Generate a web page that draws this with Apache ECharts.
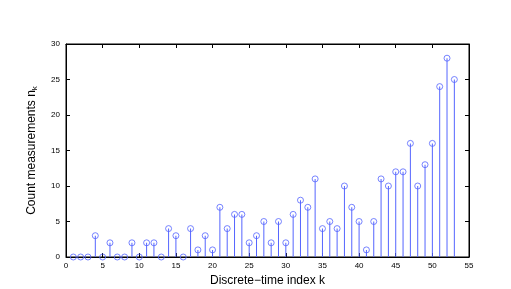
<!DOCTYPE html>
<html><head><meta charset="utf-8">
<script src="https://cdn.jsdelivr.net/npm/echarts@6/dist/echarts.min.js"></script>
<style>html,body{margin:0;padding:0;background:#fff}#c{width:511px;height:289px}</style>
</head><body><div id="c"></div>
<script>
const kIndex = [1,2,3,4,5,6,7,8,9,10,11,12,13,14,15,16,17,18,19,20,21,22,23,24,25,26,27,28,29,30,31,32,33,34,35,36,37,38,39,40,41,42,43,44,45,46,47,48,49,50,51,52,53];
const counts = [0,0,0,3,0,2,0,0,2,0,2,2,0,4,3,0,4,1,3,1,7,4,6,6,2,3,5,2,5,2,6,8,7,11,4,5,4,10,7,5,1,5,11,10,12,12,16,10,13,16,24,28,25];
const xTicks = [0,5,10,15,20,25,30,35,40,45,50,55];
const yTicks = [0,5,10,15,20,25,30];

const pts = kIndex.map((k,i)=>[k,counts[i]]);
const blue = '#5565ff';
const font = 'Liberation Sans, Arial, sans-serif';
const chart = echarts.init(document.getElementById('c'));
function base(extra){
  return Object.assign({
    axisLine:{show:true,onZero:false,lineStyle:{color:'#000',width:1}},
    axisTick:{show:true,inside:true,length:4,lineStyle:{color:'#000',width:1}},
    splitLine:{show:false}
  },extra);
}
chart.setOption({
  animation:false,
  backgroundColor:'#fff',
  grid:{left:66,right:42,top:44,bottom:32,containLabel:false,outerBoundsMode:'none',
    show:true,borderColor:'#000',borderWidth:1,backgroundColor:'transparent'},
  xAxis:[
    base({type:'value',min:xTicks[0],max:xTicks[xTicks.length-1],interval:5,position:'bottom',
      name:'Discrete\u2212time index k',nameLocation:'middle',nameGap:14,
      nameTextStyle:{fontFamily:font,fontSize:12,color:'#000'},
      axisLabel:{fontFamily:font,fontSize:8,color:'#000',margin:5}}),
    base({type:'value',min:xTicks[0],max:xTicks[xTicks.length-1],interval:5,position:'top',
      axisLabel:{show:false}})
  ],
  yAxis:[
    base({type:'value',min:yTicks[0],max:yTicks[yTicks.length-1],interval:5,position:'left',
      name:'{a|Count measurements n}{s|k}',nameLocation:'middle',nameGap:27,
      nameTextStyle:{rich:{a:{fontFamily:font,fontSize:12,color:'#000'},s:{fontFamily:font,fontSize:8,color:'#000',verticalAlign:'bottom',padding:[7,0,0,0]}}},
      axisLabel:{fontFamily:font,fontSize:8,color:'#000',margin:6}}),
    base({type:'value',min:yTicks[0],max:yTicks[yTicks.length-1],interval:5,position:'right',
      axisLabel:{show:false}})
  ],
  series:[
    {type:'bar',data:pts,barWidth:1,itemStyle:{color:blue},silent:true,xAxisIndex:0,yAxisIndex:0},
    {type:'scatter',data:pts,symbol:'circle',symbolSize:6,
      itemStyle:{color:'rgba(255,255,255,0)',borderColor:blue,borderWidth:1},xAxisIndex:0,yAxisIndex:0,z:5}
  ]
});
</script></body></html>
